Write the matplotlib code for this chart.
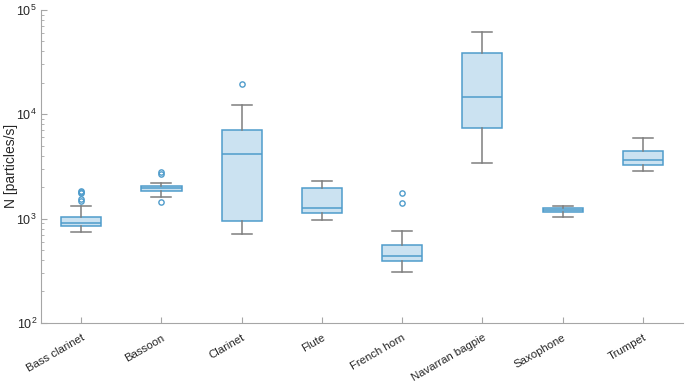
import numpy as np
import matplotlib
matplotlib.use('Agg')
import matplotlib.pyplot as plt
import matplotlib.transforms as mtransforms
from matplotlib.ticker import LogLocator, NullFormatter

plt.rcParams['font.family'] = ['Liberation Sans', 'DejaVu Sans']
plt.rcParams['mathtext.fontset'] = 'custom'
plt.rcParams['mathtext.rm'] = 'Liberation Sans'
plt.rcParams['mathtext.it'] = 'Liberation Sans:italic'

# data
instruments = ['Bass clarinet', 'Bassoon', 'Clarinet', 'Flute', 'French horn',
               'Navarran bagpie', 'Saxophone', 'Trumpet']
whisker_low = [740, 1610, 718, 957, 308, 3390, 1037, 2845]
q1 = [845, 1830, 950, 1133, 390, 7350, 1159, 3266]
median = [915, 1955, 4140, 1274, 439, 14650, 1211, 3676]
q3 = [1044, 2057, 7130, 1967, 551, 38450, 1256, 4484]
whisker_high = [1331, 2213, 12200, 2296, 767, 61500, 1331, 5970]
outliers = [[1850, 1800, 1760, 1550, 1470], [2820, 2660, 1435], [19680], [],
            [1750, 1403], [], [], []]

edge = '#4f9ccb'
fill = '#cbe2f1'
grey = '#7f7f7f'
axcol = '#a6a6a6'

stats = []
for i in range(len(instruments)):
    stats.append({'label': instruments[i], 'whislo': whisker_low[i], 'q1': q1[i],
                  'med': median[i], 'q3': q3[i], 'whishi': whisker_high[i],
                  'fliers': outliers[i]})

fig = plt.figure(figsize=(6.85, 3.82), dpi=100)
ax = fig.add_axes([0.06, 0.155, 0.937, 0.819])

ax.bxp(stats, positions=np.arange(1, 9), widths=0.5, patch_artist=True,
       showfliers=True,
       boxprops=dict(facecolor=fill, edgecolor=edge, linewidth=1.1),
       medianprops=dict(color=edge, linewidth=1.1),
       whiskerprops=dict(color=grey, linewidth=1.1),
       capprops=dict(color=grey, linewidth=1.1),
       capwidths=0.25,
       flierprops=dict(marker='o', markersize=3.8, markerfacecolor='none',
                       markeredgecolor=edge, markeredgewidth=1.0))

ax.set_yscale('log')
ax.set_ylim(100, 1e5)
ax.set_xlim(0.5, 8.5)
ax.yaxis.set_major_locator(LogLocator(base=10, numticks=10))
ax.yaxis.set_minor_locator(LogLocator(base=10, subs=np.arange(2, 10), numticks=20))
ax.yaxis.set_minor_formatter(NullFormatter())

ax.set_xticks(np.arange(1, 9))
ax.set_xticklabels(instruments, rotation=30, ha='right', rotation_mode='anchor',
                   fontsize=8.2, color='#262626')
shift = mtransforms.ScaledTranslation(5 / 100, 0, fig.dpi_scale_trans)
for lab in ax.get_xticklabels():
    lab.set_transform(lab.get_transform() + shift)

ax.set_ylabel('N [particles/s]', fontsize=10, color='#262626')
ax.yaxis.set_label_coords(-0.036, 0.5)

for s in ['top', 'right']:
    ax.spines[s].set_visible(False)
for s in ['left', 'bottom']:
    ax.spines[s].set_color(axcol)
    ax.spines[s].set_linewidth(0.8)
ax.tick_params(axis='both', which='both', direction='in', color=axcol,
               labelcolor='#262626')
ax.tick_params(axis='y', labelsize=9, pad=3)
ax.tick_params(axis='both', which='major', length=4)
ax.tick_params(axis='y', which='minor', length=2.5)
ax.tick_params(axis='x', pad=7)

fig.savefig('out.png', dpi=100)
